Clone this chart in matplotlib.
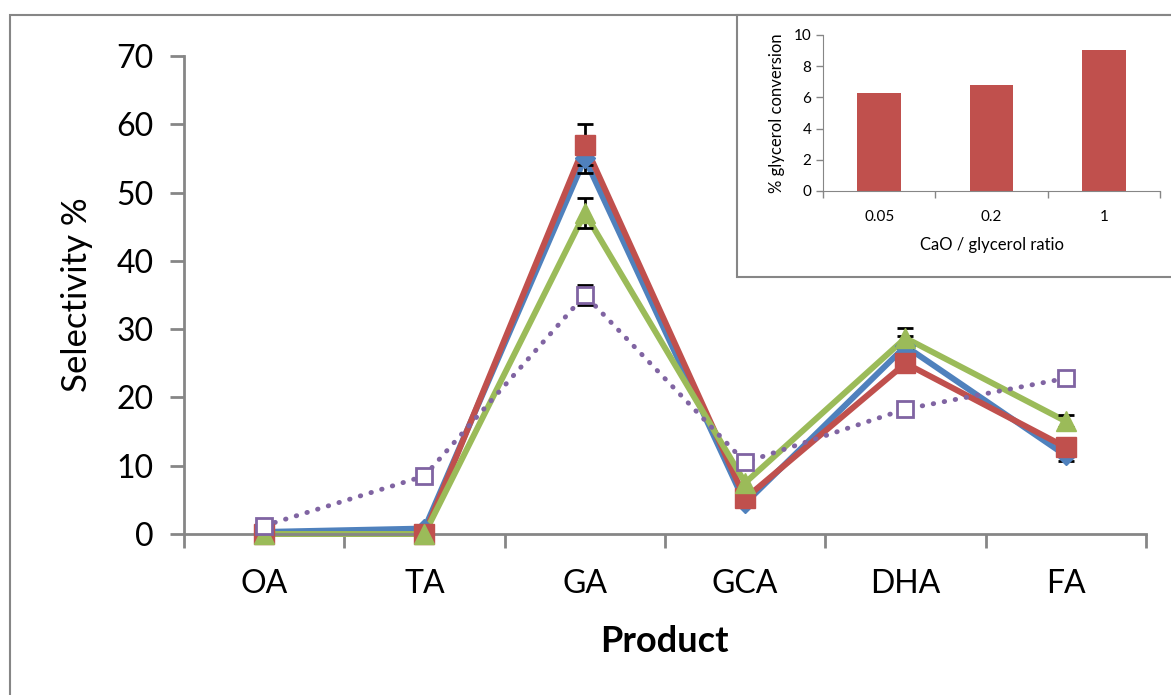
import numpy as np
import matplotlib
matplotlib.use("Agg")
import matplotlib.pyplot as plt
from matplotlib.patches import Rectangle

plt.rcParams['font.family'] = ['Lato', 'DejaVu Sans']

products = ['OA', 'TA', 'GA', 'GCA', 'DHA', 'FA']

# selectivity % for each catalyst series
blue_vals = [0.3, 0.8, 55.0, 4.5, 27.5, 11.5]
blue_err = [0, 0, 2.2, 0, 1.5, 0.8]
red_vals = [0.0, 0.0, 57.0, 5.2, 25.0, 12.7]
red_err = [0, 0, 3.0, 0, 1.3, 0.8]
green_vals = [0.0, 0.0, 47.0, 7.5, 28.7, 16.5]
green_err = [0, 0, 2.2, 0, 1.5, 0.9]
purple_vals = [1.2, 8.5, 35.0, 10.5, 18.3, 22.8]
purple_err = [0, 0, 1.5, 0, 0, 1.0]

# inset: conversion vs CaO/glycerol ratio
ratios = ['0.05', '0.2', '1']
conversion = [6.25, 6.8, 9.05]

BLUE = '#4F81BD'
RED = '#C0504D'
GREEN = '#9BBB59'
PURPLE = '#8064A2'
GRAY = '#868686'

W, H = 1171, 695
fig = plt.figure(figsize=(W / 100, H / 100), dpi=100)

# outer chart border
fig.patches.append(Rectangle((10 / W, -0.05), 1.2, 1 - 15 / H + 0.05, transform=fig.transFigure,
                             fill=False, edgecolor=GRAY, linewidth=1.5, zorder=0))

ax = fig.add_axes([184 / W, 1 - 534 / H, (1146 - 184) / W, (534 - 56) / H])
x = np.arange(len(products))


def draw_series(vals, err, color, marker, ms, k, ls='-', lw=4.3, mfc=None):
    vals = np.array(vals)
    err = np.array(err)
    # line, then error bars, then markers (like the original)
    ax.plot(x, vals, color=color, linestyle=ls, linewidth=lw, solid_joinstyle='miter',
            dash_capstyle='round', clip_on=False, zorder=2 + 0.01 * k)
    m = err > 0
    ax.errorbar(x[m], vals[m], yerr=err[m], fmt='none', ecolor='black', elinewidth=2,
                capsize=6, capthick=2, zorder=3, clip_on=False)
    ax.plot(x, vals, linestyle='none', marker=marker, markersize=ms,
            markerfacecolor=mfc if mfc else color, markeredgecolor=color,
            markeredgewidth=2 if mfc else 1, clip_on=False, zorder=4 + 0.01 * k)


draw_series(blue_vals, blue_err, BLUE, 'D', 10, 0)
draw_series(red_vals, red_err, RED, 's', 14, 1)
draw_series(green_vals, green_err, GREEN, '^', 15, 2)
draw_series(purple_vals, purple_err, PURPLE, 's', 12, 3, ls=(0, (0.1, 2.2)), lw=3.5, mfc='white')

ax.set_xlim(-0.5, len(products) - 0.5)
ax.set_ylim(0, 70)
ax.set_yticks(np.arange(0, 71, 10))
ax.set_xticks(x)
ax.set_xticklabels(products)
ax.set_xticks(np.arange(-0.5, len(products), 1), minor=True)
ax.tick_params(axis='x', which='major', length=0, labelsize=23, pad=25)
ax.tick_params(axis='x', which='minor', length=10, width=2, color=GRAY, direction='out')
ax.tick_params(axis='y', length=10, width=2, color=GRAY, labelsize=23, pad=12)
for s in ['top', 'right']:
    ax.spines[s].set_visible(False)
for s in ['left', 'bottom']:
    ax.spines[s].set_color(GRAY)
    ax.spines[s].set_linewidth(2)

fig.text(77 / W, 1 - 295 / H, 'Selectivity %', rotation=90, ha='center', va='center', fontsize=25)
fig.text(664 / W, 1 - 642 / H, 'Product', ha='center', va='center', fontsize=26, fontweight='bold')

# inset frame
fig.patches.append(Rectangle((737 / W, 1 - 277 / H), 1.0, (277 - 15) / H, transform=fig.transFigure,
                             facecolor='white', edgecolor=GRAY, linewidth=1.5, zorder=3))

axi = fig.add_axes([823 / W, 1 - 191 / H, (1160 - 823) / W, (191 - 35) / H])
axi.set_zorder(4)
xi = np.arange(len(ratios))
axi.bar(xi, conversion, width=0.39, color=RED)
axi.set_xlim(-0.5, len(ratios) - 0.5)
axi.set_ylim(0, 10)
axi.set_yticks(np.arange(0, 11, 2))
axi.set_xticks(xi)
axi.set_xticklabels(ratios)
axi.set_xticks(np.arange(-0.5, len(ratios), 1), minor=True)
axi.tick_params(axis='x', which='major', length=0, labelsize=11, pad=14)
axi.tick_params(axis='x', which='minor', length=5, width=1, color=GRAY)
axi.tick_params(axis='y', length=5, width=1, color=GRAY, labelsize=11)
for s in ['top', 'right']:
    axi.spines[s].set_visible(False)
for s in ['left', 'bottom']:
    axi.spines[s].set_color(GRAY)
axi.set_xlabel('CaO / glycerol ratio', fontsize=12, labelpad=9)
axi.set_ylabel('% glycerol conversion', fontsize=12, labelpad=6)

fig.savefig('out.png', dpi=100)
